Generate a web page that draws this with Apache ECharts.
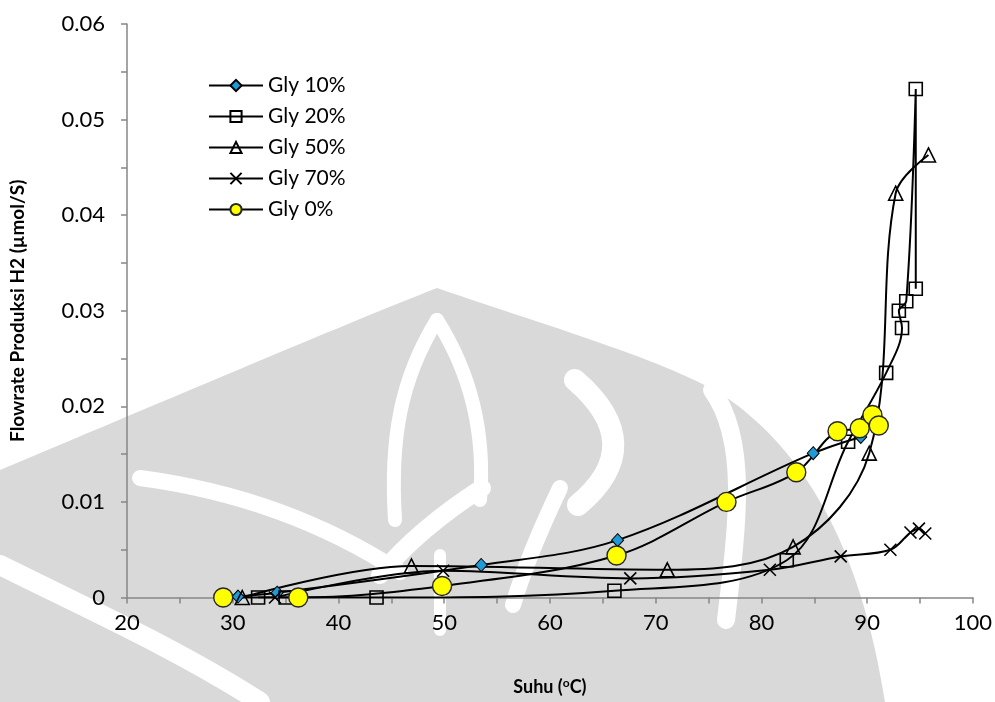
<!DOCTYPE html>
<html>
<head>
<meta charset="utf-8">
<script src="https://cdn.jsdelivr.net/npm/echarts@6/dist/echarts.min.js"></script>
<style>html,body{margin:0;padding:0;background:#fff}#c{width:995px;height:702px}</style>
</head>
<body>
<div id="c"></div>
<script>
// Data (temperature °C, flowrate µmol/S)
const gly10_x = [30.5, 34.2, 53.5, 66.4, 84.9, 89.4];
const gly10_y = [0.0001, 0.0005, 0.0034, 0.0060, 0.0151, 0.0168];

const gly20_x = [32.4, 35.0, 43.6, 66.1, 82.4, 88.2, 91.8, 93.3, 93.0, 93.7, 94.6, 94.6];
const gly20_y = [0, 0, 0, 0.0007, 0.0039, 0.0163, 0.0235, 0.0282, 0.0300, 0.0310, 0.0532, 0.0323];

const gly50_x = [30.9, 46.9, 71.1, 83.0, 90.2, 92.7, 95.8];
const gly50_y = [0, 0.0033, 0.0029, 0.0053, 0.0151, 0.0423, 0.0463];

const gly70_x = [34.0, 49.9, 67.6, 80.8, 87.5, 92.2, 94.1, 94.9, 95.5];
const gly70_y = [0, 0.0028, 0.0020, 0.0029, 0.0043, 0.0050, 0.0068, 0.0072, 0.0067];

const gly0_x = [29.1, 36.2, 49.8, 66.3, 76.7, 83.3, 87.2, 89.3, 90.5, 91.1];
const gly0_y = [0, 0, 0.0012, 0.0044, 0.0100, 0.0131, 0.0174, 0.0177, 0.0191, 0.0180];

const seriesNames = ['Gly 10%', 'Gly 20%', 'Gly 50%', 'Gly 70%', 'Gly 0%'];
const xTicks = [20, 30, 40, 50, 60, 70, 80, 90, 100];
const yTicks = [0, 0.01, 0.02, 0.03, 0.04, 0.05, 0.06];

function pairs(xs, ys) { return xs.map((x, i) => [x, ys[i]]); }

const FONT = 'Lato, "Open Sans", sans-serif';
const crossPath = 'path://M0,0L10,10M10,0L0,10';

// decorative background watermark (approximate), drawn as an inline SVG image
const wmSvg =
  '<svg xmlns="http://www.w3.org/2000/svg" width="995" height="702">' +
  '<path d="M0,470 C120,420 330,330 437,288 C560,330 680,365 730,400 C800,450 860,540 885,702 L0,702 Z" fill="#d9d9d9"/>' +
  '<g fill="none" stroke="#fff" stroke-linecap="round">' +
  '<path d="M575,380 Q650,445 578,505" stroke-width="22"/>' +
  '<path d="M712,390 C748,440 738,520 726,620" stroke-width="18"/>' +
  '<path d="M140,478 C230,490 320,520 400,572" stroke-width="16"/>' +
  '<path d="M0,565 C80,605 180,650 260,702" stroke-width="20"/>' +
  '<path d="M440,555 L440,630" stroke-width="12"/>' +
  '<path d="M482,488 C440,515 405,545 380,575" stroke-width="18"/>' +
  '<path d="M560,488 C540,530 525,565 513,605" stroke-width="16"/>' +
  '<path d="M437,320 C400,380 390,440 395,520" stroke-width="14"/>' +
  '<path d="M437,320 C475,380 485,440 480,500" stroke-width="14"/>' +
  '</g></svg>';
const wmUrl = 'data:image/svg+xml;charset=utf-8,' + encodeURIComponent(wmSvg);

const chart = echarts.init(document.getElementById('c'), null, {renderer: 'canvas'});

const lineBase = {
  type: 'line', smooth: 0.35,
  lineStyle: {color: '#000', width: 2},
  emphasis: {disabled: true}
};

function draw() {
chart.setOption({
  animation: false,
  backgroundColor: '#fff',
  graphic: [{type: 'image', silent: true, z: -20, left: 0, top: 0,
    style: {image: wmImg, width: 995, height: 702}}],
  grid: {left: 127, right: 22, top: 24, bottom: 104.5},
  legend: {
    orient: 'vertical', left: 203, top: 70, itemWidth: 54, itemHeight: 14, itemGap: 10,
    textStyle: {fontFamily: FONT, fontSize: 21, color: '#000'},
    data: seriesNames
  },
  xAxis: {
    type: 'value', min: 20, max: 100, interval: 10,
    axisLine: {show: true, lineStyle: {color: '#868686', width: 1.5}},
    axisTick: {show: true, length: 6, lineStyle: {color: '#868686', width: 1.5}},
    minorTick: {show: true, splitNumber: 2, length: 6, lineStyle: {color: '#868686', width: 1.5}},
    splitLine: {show: false},
    axisLabel: {fontFamily: FONT, fontSize: 22, color: '#000', margin: 14},
    name: '{a|Suhu (}{s|o}{a|C)}', nameLocation: 'middle', nameGap: 80,
    nameTextStyle: {rich: {
      a: {fontFamily: FONT, fontSize: 18, fontWeight: 'bold', color: '#000'},
      s: {fontFamily: FONT, fontSize: 12, fontWeight: 'bold', color: '#000', verticalAlign: 'top', padding: [0,0,7,0]}
    }}
  },
  yAxis: {
    type: 'value', min: 0, max: 0.06, interval: 0.01,
    axisLine: {show: true, lineStyle: {color: '#868686', width: 1.5}},
    axisTick: {show: true, length: 6, lineStyle: {color: '#868686', width: 1.5}},
    minorTick: {show: true, splitNumber: 2, length: 6, lineStyle: {color: '#868686', width: 1.5}},
    splitLine: {show: false},
    axisLabel: {fontFamily: FONT, fontSize: 22, color: '#000', margin: 22,
      formatter: v => (Math.abs(v) < 1e-9 ? '0' : String(Math.round(v * 100) / 100))},
    name: 'Flowrate Produksi H2 (µmol/S)', nameLocation: 'middle', nameGap: 100,
    nameTextStyle: {fontFamily: FONT, fontSize: 19, fontWeight: 'bold', color: '#000'}
  },
  series: [
    Object.assign({}, lineBase, {
      name: seriesNames[0], data: pairs(gly10_x, gly10_y),
      symbol: 'diamond', symbolSize: [12, 13],
      itemStyle: {color: '#1e9ad6', borderColor: '#000', borderWidth: 1}
    }),
    Object.assign({}, lineBase, {
      name: seriesNames[1], data: pairs(gly20_x, gly20_y),
      symbol: 'rect', symbolSize: 13,
      itemStyle: {color: 'rgba(255,255,255,0)', borderColor: '#000', borderWidth: 1.6}
    }),
    Object.assign({}, lineBase, {
      name: seriesNames[2], data: pairs(gly50_x, gly50_y),
      symbol: 'triangle', symbolSize: 14,
      itemStyle: {color: 'rgba(255,255,255,0)', borderColor: '#000', borderWidth: 1.6}
    }),
    Object.assign({}, lineBase, {
      name: seriesNames[3], data: pairs(gly70_x, gly70_y),
      symbol: crossPath, symbolSize: 12,
      itemStyle: {color: 'rgba(0,0,0,0)', borderColor: '#000', borderWidth: 1.6}
    }),
    Object.assign({}, lineBase, {
      name: seriesNames[4], data: pairs(gly0_x, gly0_y),
      symbol: 'circle', symbolSize: 19,
      itemStyle: {color: '#ffff00', borderColor: '#262626', borderWidth: 1.4}
    })
  ]
});
}
const wmImg = new Image();
wmImg.onload = draw;
wmImg.onerror = draw;
wmImg.src = wmUrl;
</script>
</body>
</html>
